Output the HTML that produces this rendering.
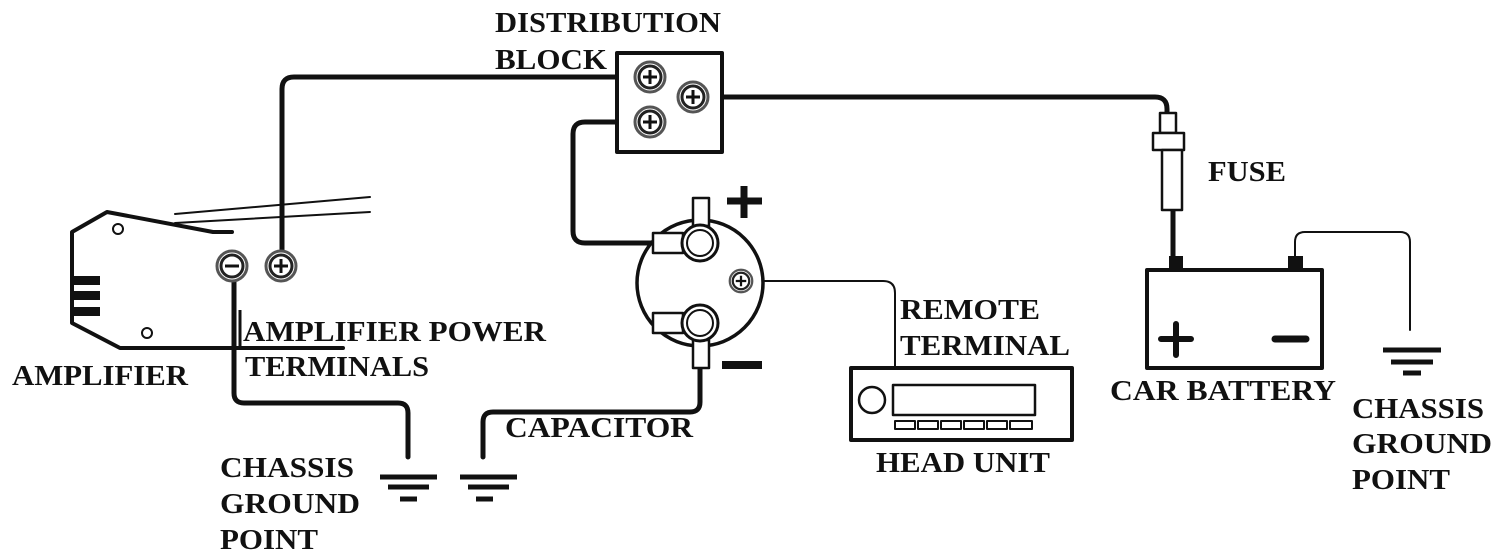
<!DOCTYPE html>
<html><head><meta charset="utf-8"><style>
html,body{margin:0;padding:0;background:#fff;}
svg{display:block;}
text{font-family:"Liberation Serif","DejaVu Serif",serif;font-weight:bold;font-size:28px;fill:#111;}
</style></head><body>
<svg width="1500" height="560" viewBox="0 0 1500 560" xmlns="http://www.w3.org/2000/svg">
<defs>
<g id="scr"><circle r="15" fill="#fff" stroke="#555" stroke-width="3"/><circle r="11" fill="#fff" stroke="#222" stroke-width="3"/><path d="M-7 0H7M0 -7V7" stroke="#111" stroke-width="3"/></g>
<g id="scrm"><circle r="15" fill="#fff" stroke="#555" stroke-width="3"/><circle r="11" fill="#fff" stroke="#222" stroke-width="3"/><path d="M-7 0H7" stroke="#111" stroke-width="3"/></g>
</defs>
<g fill="none" stroke="#111" stroke-linecap="round" stroke-linejoin="round">
<path d="M232 232 L213 232 L107 212 L72 232 V323 L120 348 H343" stroke-width="4"/>
<path d="M175 214 L370 197 M175 223 L370 212" stroke-width="2"/>
<circle cx="118" cy="229" r="5" stroke-width="2"/>
<circle cx="147" cy="333" r="5" stroke-width="2"/>
<path d="M650 77 H294 Q282 77 282 89 V252" stroke-width="5"/>
<path d="M234 281 V393 Q234 403 244 403 H398 Q408 403 408 413 V457" stroke-width="5"/>
<path d="M650 122 H585 Q573 122 573 134 V231 Q573 243 585 243 H652" stroke-width="5"/>
<path d="M700 368 V402 Q700 412 690 412 H493 Q483 412 483 422 V457" stroke-width="5"/>
<path d="M722 97 H1155 Q1167 97 1167 109 V113" stroke-width="5"/>
<path d="M1173 210 V258" stroke-width="5"/>
<path d="M752 281 H883 Q895 281 895 293 V368" stroke-width="2"/>
<path d="M1295 258 V242 Q1295 232 1305 232 H1400 Q1410 232 1410 242 V330" stroke-width="2"/>
<rect x="617" y="53" width="105" height="99" stroke-width="4" fill="#fff"/>
<rect x="1160" y="113" width="16" height="20" stroke-width="2.5" fill="#fff"/>
<rect x="1153" y="133" width="31" height="17" stroke-width="2.5" fill="#fff"/>
<rect x="1162" y="150" width="20" height="60" stroke-width="2.5" fill="#fff"/>
<rect x="1147" y="270" width="175" height="98" stroke-width="4" fill="#fff"/>
<rect x="1169" y="256" width="14" height="12" fill="#111" stroke="none"/>
<rect x="1288" y="256" width="15" height="13" fill="#111" stroke="none"/>
<path d="M1161 339 H1191 M1176 324 V355" stroke-width="6"/>
<path d="M1275 339 H1306" stroke-width="7"/>
<path d="M1383 350 H1441 M1391 362 H1433 M1403 373 H1421" stroke-width="5" stroke-linecap="butt"/>
<path d="M380 477 H437 M388 487 H429 M400 499 H417" stroke-width="5" stroke-linecap="butt"/>
<path d="M460 477 H517 M468 487 H509 M476 499 H493" stroke-width="5" stroke-linecap="butt"/>
<circle cx="700" cy="283" r="63" stroke-width="3.5" fill="#fff"/>
<rect x="693" y="198" width="16" height="28" stroke-width="2.5" fill="#fff"/>
<rect x="653" y="233" width="30" height="20" stroke-width="2.5" fill="#fff"/>
<circle cx="700" cy="243" r="18" stroke-width="3" fill="#fff"/>
<circle cx="700" cy="243" r="13" stroke-width="2" fill="#fff"/>
<rect x="653" y="313" width="30" height="20" stroke-width="2.5" fill="#fff"/>
<rect x="693" y="340" width="16" height="28" stroke-width="2.5" fill="#fff"/>
<circle cx="700" cy="323" r="18" stroke-width="3" fill="#fff"/>
<circle cx="700" cy="323" r="13" stroke-width="2" fill="#fff"/>
<path d="M727 201 H762 M744 186 V218" stroke-width="7" stroke-linecap="butt"/>
<path d="M722 365 H762" stroke-width="8" stroke-linecap="butt"/>
<rect x="851" y="368" width="221" height="72" stroke-width="4" fill="#fff"/>
<circle cx="872" cy="400" r="13" stroke-width="2.5"/>
<rect x="893" y="385" width="142" height="30" stroke-width="2.5"/>
<g stroke-width="2">
<rect x="895" y="421" width="20" height="8"/><rect x="918" y="421" width="20" height="8"/><rect x="941" y="421" width="20" height="8"/><rect x="964" y="421" width="20" height="8"/><rect x="987" y="421" width="20" height="8"/><rect x="1010" y="421" width="22" height="8"/>
</g>
</g>
<rect x="72" y="276" width="28" height="9" fill="#111"/>
<rect x="72" y="291" width="28" height="9" fill="#111"/>
<rect x="72" y="307" width="28" height="9" fill="#111"/>
<path d="M240 310 V348" stroke="#111" stroke-width="3"/>
<use href="#scr" x="650" y="77"/>
<use href="#scr" x="650" y="122"/>
<use href="#scr" x="693" y="97"/>
<use href="#scrm" x="232" y="266"/>
<use href="#scr" x="281" y="266"/>
<g transform="translate(741 281) scale(0.75)"><use href="#scr"/></g>
<text x="495" y="32" textLength="226" lengthAdjust="spacingAndGlyphs">DISTRIBUTION</text>
<text x="495" y="69" textLength="112" lengthAdjust="spacingAndGlyphs">BLOCK</text>
<text x="1208" y="181" textLength="78" lengthAdjust="spacingAndGlyphs">FUSE</text>
<text x="900" y="319" textLength="140" lengthAdjust="spacingAndGlyphs">REMOTE</text>
<text x="900" y="355" textLength="170" lengthAdjust="spacingAndGlyphs">TERMINAL</text>
<text x="876" y="472" textLength="174" lengthAdjust="spacingAndGlyphs">HEAD UNIT</text>
<text x="1110" y="400" textLength="226" lengthAdjust="spacingAndGlyphs">CAR BATTERY</text>
<text x="1352" y="418" textLength="132" lengthAdjust="spacingAndGlyphs">CHASSIS</text>
<text x="1352" y="453" textLength="140" lengthAdjust="spacingAndGlyphs">GROUND</text>
<text x="1352" y="489" textLength="98" lengthAdjust="spacingAndGlyphs">POINT</text>
<text x="12" y="385" textLength="176" lengthAdjust="spacingAndGlyphs">AMPLIFIER</text>
<text x="243" y="341" textLength="303" lengthAdjust="spacingAndGlyphs">AMPLIFIER POWER</text>
<text x="245" y="376" textLength="184" lengthAdjust="spacingAndGlyphs">TERMINALS</text>
<text x="505" y="437" textLength="188" lengthAdjust="spacingAndGlyphs">CAPACITOR</text>
<text x="220" y="477" textLength="134" lengthAdjust="spacingAndGlyphs">CHASSIS</text>
<text x="220" y="513" textLength="140" lengthAdjust="spacingAndGlyphs">GROUND</text>
<text x="220" y="549" textLength="98" lengthAdjust="spacingAndGlyphs">POINT</text>
</svg>
</body></html>
